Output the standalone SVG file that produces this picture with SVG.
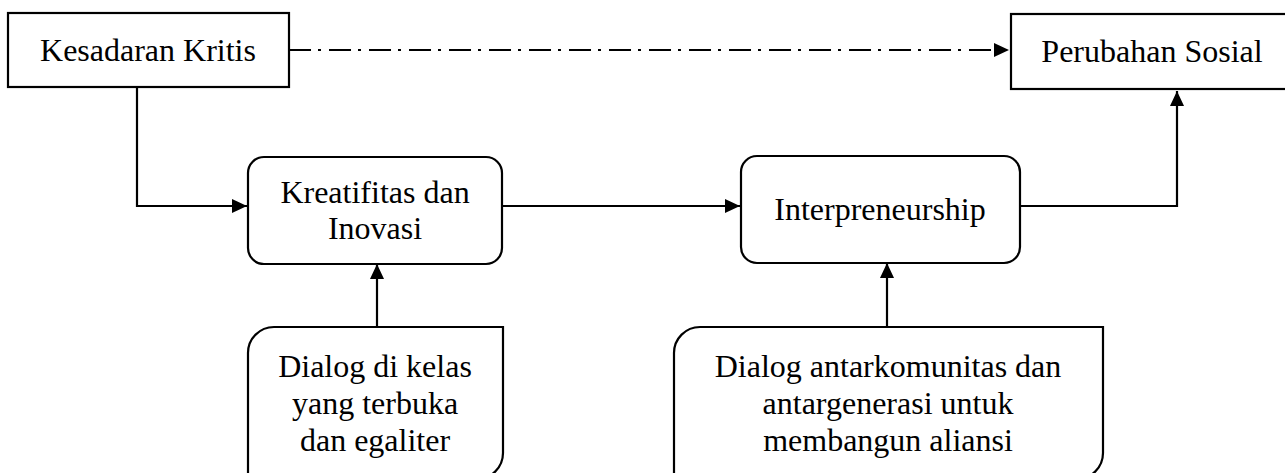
<svg xmlns="http://www.w3.org/2000/svg" width="1285" height="473" viewBox="0 0 1285 473">
<style>
.box{fill:#fff;stroke:#000;stroke-width:2.2}
.t{font-family:"Liberation Serif","Times New Roman",serif;font-size:32px;fill:#000;text-anchor:middle}
.c{fill:none;stroke:#000;stroke-width:2.2}
.dd{stroke-dasharray:22 7 3 8}
</style>
<defs>
<marker id="ah" markerUnits="userSpaceOnUse" markerWidth="15" markerHeight="14" refX="15" refY="7" orient="auto">
<path d="M0,0 L15,7 L0,14 Z" fill="#000"/>
</marker>
</defs>
<rect width="1285" height="473" fill="#fff"/>
<g id="connectors">
<path class="c dd" d="M289,50 L1009,50" marker-end="url(#ah)"/>
<path class="c" d="M137,87 L137,206 L247,206" marker-end="url(#ah)"/>
<path class="c" d="M503,206 L740,206" marker-end="url(#ah)"/>
<path class="c" d="M1020,206 L1177,206 L1177,91" marker-end="url(#ah)"/>
<path class="c" d="M377,327 L377,264" marker-end="url(#ah)"/>
<path class="c" d="M887,327 L887,263" marker-end="url(#ah)"/>
</g>
<g id="kesadaran">
<rect class="box" x="8" y="13" width="281" height="74"/>
<text class="t" x="148" y="61">Kesadaran Kritis</text>
</g>
<g id="perubahan">
<rect class="box" x="1011" y="14" width="282" height="75"/>
<text class="t" x="1152" y="62">Perubahan Sosial</text>
</g>
<g id="kreatifitas">
<rect class="box" x="248" y="157" width="254" height="107" rx="16" ry="16"/>
<text class="t" x="375" y="203">Kreatifitas dan</text>
<text class="t" x="375" y="239">Inovasi</text>
</g>
<g id="interpreneurship">
<rect class="box" x="741" y="156" width="279" height="107" rx="16" ry="16"/>
<text class="t" x="880" y="220">Interpreneurship</text>
</g>
<g id="dialog-kelas">
<path class="box" d="M248,479 L248,353 A26,26 0 0 1 274,327 L503,327 L503,453 A26,26 0 0 1 477,479 Z"/>
<text class="t" x="375" y="377">Dialog di kelas</text>
<text class="t" x="375" y="414">yang terbuka</text>
<text class="t" x="375" y="451">dan egaliter</text>
</g>
<g id="dialog-komunitas">
<path class="box" d="M674,479 L674,353 A26,26 0 0 1 700,327 L1103,327 L1103,453 A26,26 0 0 1 1077,479 Z"/>
<text class="t" x="888" y="377">Dialog antarkomunitas dan</text>
<text class="t" x="888" y="414">antargenerasi untuk</text>
<text class="t" x="888" y="451">membangun aliansi</text>
</g>
</svg>
